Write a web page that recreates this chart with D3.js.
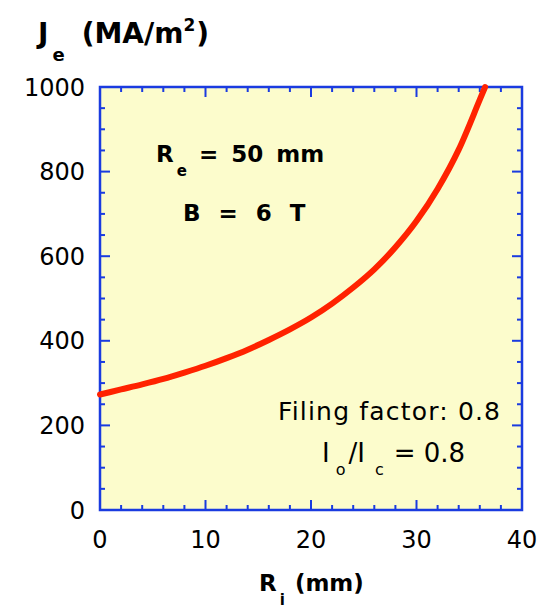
<!DOCTYPE html>
<html>
<head>
<meta charset="utf-8">
<script src="https://cdn.jsdelivr.net/npm/d3@7"></script>
<style>
  body { margin: 0; background: #fff; }
  svg text { font-family: "Comic Sans MS", "DejaVu Sans", sans-serif; fill: #000; }
</style>
</head>
<body>
<div id="chart"></div>
<script>
// values
const riValues = [0, 2, 4, 6, 8, 10, 12, 14, 16, 18, 20, 22, 24, 26, 28, 30, 32, 34, 36, 36.5];
const jeValues = [273, 285, 297, 310, 325, 341, 359, 379, 402, 427, 455, 488, 526, 569, 621, 683, 759, 852, 970, 1000];
const xTicks = [0, 10, 20, 30, 40];
const yTicks = [0, 200, 400, 600, 800, 1000];

const width = 542, height = 609;
const margin = { top: 87, right: 20, bottom: 99, left: 100 };

const svg = d3.select("#chart").append("svg")
    .attr("width", width)
    .attr("height", height);

const x = d3.scaleLinear().domain([0, 40]).range([margin.left, width - margin.right]);
const y = d3.scaleLinear().domain([0, 1000]).range([height - margin.bottom, margin.top]);

const axisColor = "#1a3be0";

// plot background
svg.append("rect")
    .attr("x", x(0)).attr("y", y(1000))
    .attr("width", x(40) - x(0)).attr("height", y(0) - y(1000))
    .attr("fill", "#fcfccc");

// ticks on all four sides, pointing inward
const minorX = d3.range(0, 41, 2), minorY = d3.range(0, 1001, 50);
const tickG = svg.append("g").attr("stroke", axisColor).attr("stroke-width", 2);

minorX.forEach(v => {
    const len = v % 10 === 0 ? 10 : 5;
    tickG.append("line").attr("x1", x(v)).attr("x2", x(v)).attr("y1", y(0)).attr("y2", y(0) - len);
    tickG.append("line").attr("x1", x(v)).attr("x2", x(v)).attr("y1", y(1000)).attr("y2", y(1000) + len);
});
minorY.forEach(v => {
    const len = v % 200 === 0 ? 10 : 5;
    tickG.append("line").attr("y1", y(v)).attr("y2", y(v)).attr("x1", x(0)).attr("x2", x(0) + len);
    tickG.append("line").attr("y1", y(v)).attr("y2", y(v)).attr("x1", x(40)).attr("x2", x(40) - len);
});

// frame
svg.append("rect")
    .attr("x", x(0)).attr("y", y(1000))
    .attr("width", x(40) - x(0)).attr("height", y(0) - y(1000))
    .attr("fill", "none")
    .attr("stroke", axisColor)
    .attr("stroke-width", 2.5);

// curve
const line = d3.line()
    .x((d, i) => x(riValues[i]))
    .y(d => y(d))
    .curve(d3.curveMonotoneX);

svg.append("path")
    .datum(jeValues)
    .attr("d", line)
    .attr("fill", "none")
    .attr("stroke", "#ff2200")
    .attr("stroke-width", 6)
    .attr("stroke-linecap", "round");

// tick labels
svg.append("g").selectAll("text")
    .data(xTicks)
    .join("text")
    .attr("x", d => x(d))
    .attr("y", 548)
    .attr("text-anchor", "middle")
    .attr("font-size", 24)
    .text(d => d);

svg.append("g").selectAll("text")
    .data(yTicks)
    .join("text")
    .attr("x", 85)
    .attr("y", d => y(d))
    .attr("dy", "0.36em")
    .attr("text-anchor", "end")
    .attr("font-size", 24)
    .text(d => d);

// axis titles
const yTitle = svg.append("text")
    .attr("x", 38).attr("y", 43)
    .attr("font-size", 28).attr("font-weight", "bold");
yTitle.append("tspan").text("J");
yTitle.append("tspan").attr("font-size", 18).attr("dy", 18).attr("dx", 4).text("e");
yTitle.append("tspan").attr("dy", -18).attr("dx", 17).text("(MA/m");
yTitle.append("tspan").attr("font-size", 17).attr("dy", -12).text("2");
yTitle.append("tspan").attr("dy", 12).attr("dx", 1).text(")");

const xTitle = svg.append("text")
    .attr("x", 259).attr("y", 591)
    .attr("font-size", 23).attr("font-weight", "bold");
xTitle.append("tspan").text("R");
xTitle.append("tspan").attr("font-size", 15).attr("dy", 14).attr("dx", 3).text("i");
xTitle.append("tspan").attr("dy", -14).attr("dx", 10).text("(mm)");

// annotations
const re = svg.append("text")
    .attr("x", 156).attr("y", 162)
    .attr("font-size", 23).attr("font-weight", "bold")
    .attr("word-spacing", 5);
re.append("tspan").text("R");
re.append("tspan").attr("font-size", 15).attr("dy", 14).attr("dx", 3).text("e");
re.append("tspan").attr("dy", -14).attr("dx", 12).text("= 50 mm");

svg.append("text")
    .attr("x", 183).attr("y", 221)
    .attr("font-size", 23).attr("font-weight", "bold")
    .attr("word-spacing", 10)
    .text("B = 6 T");

svg.append("text")
    .attr("x", 278).attr("y", 420)
    .attr("font-size", 25)
    .attr("textLength", 222)
    .text("Filing factor: 0.8");

const io = svg.append("text")
    .attr("x", 322).attr("y", 462)
    .attr("font-size", 26);
io.append("tspan").text("I");
io.append("tspan").attr("font-size", 16).attr("dy", 13).attr("dx", 6).text("o");
io.append("tspan").attr("dy", -13).attr("dx", 3).text("/I");
io.append("tspan").attr("font-size", 16).attr("dy", 13).attr("dx", 10).text("c");
io.append("tspan").attr("dy", -13).attr("dx", 10).text("= 0.8");
</script>
</body>
</html>
